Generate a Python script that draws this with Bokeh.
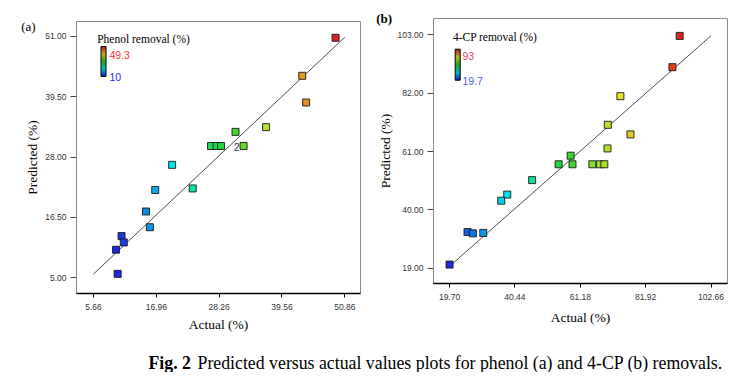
from bokeh.plotting import figure
from bokeh.layouts import column, row
from bokeh.models import (Range1d, FixedTicker, PrintfTickFormatter, LinearColorMapper,
                          ColorBar, Label, ColumnDataSource, Title)
from bokeh.core.properties import value
from bokeh.embed import file_html
from bokeh.resources import INLINE

# ---------------- data ----------------
phenol_actual = [49.2, 43.2, 43.9, 36.7, 31.2, 26.8, 27.8, 28.6, 32.65, 19.8,
                 16.76, 23.5, 15.1, 15.8, 10.7, 11.1, 9.7, 10.0]
phenol_pred = [50.75, 43.5, 38.4, 33.7, 32.8, 30.1, 30.1, 30.1, 30.1, 26.5,
               21.7, 22.0, 17.6, 14.6, 12.9, 11.7, 10.3, 5.7]
phenol_count = [1, 1, 1, 1, 1, 1, 1, 1, 2, 1, 1, 1, 1, 1, 1, 1, 1, 1]

cp_actual = [92.7, 90.4, 73.9, 69.9, 77.1, 69.8, 58.1, 54.3, 58.7, 65.0,
             67.4, 68.8, 45.9, 38.0, 36.1, 25.4, 27.1, 30.4, 19.7]
cp_pred = [102.6, 91.35, 80.9, 70.6, 67.15, 62.1, 59.5, 56.4, 56.4, 56.4,
           56.4, 56.4, 50.7, 45.5, 43.3, 32.0, 31.55, 31.7, 20.3]
cp_count = [1] * len(cp_actual)

phenol_xticks = [5.66, 16.96, 28.26, 39.56, 50.86]
phenol_yticks = [5.00, 16.50, 28.00, 39.50, 51.00]
cp_xticks = [19.70, 40.44, 61.18, 81.92, 102.66]
cp_yticks = [19.00, 40.00, 61.00, 82.00, 103.00]

phenol_color_range = [10, 49.3]
cp_color_range = [19.7, 93]

phenol_title = "Phenol removal (%)"
cp_title = "4-CP removal (%)"
caption_bold = "Fig. 2"
caption_rest = "Predicted versus actual values plots for phenol (a) and 4-CP (b) removals."

SERIF = "Liberation Serif"
SANS = "Liberation Sans"

# blue - cyan - green - yellow - red palette (Design-Expert style)
anchors = [(0.0, (30, 40, 225)), (0.25, (0, 230, 235)), (0.5, (40, 210, 40)),
           (0.75, (230, 230, 40)), (1.0, (225, 30, 30))]


def make_palette(n=256, shade=1.0):
    out = []
    for i in range(n):
        t = i / (n - 1)
        for (t0, c0), (t1, c1) in zip(anchors[:-1], anchors[1:]):
            if t0 <= t <= t1:
                f = (t - t0) / (t1 - t0)
                c = [round((a + (b - a) * f) * shade) for a, b in zip(c0, c1)]
                out.append("#%02x%02x%02x" % tuple(c))
                break
    return out


PALETTE = make_palette()
BAR_PALETTE = make_palette(shade=0.8)


def make_panel(actual, pred, count, xticks, yticks, xr, yr, crange, title, tag,
               tag_bold, tag_offset, tag_standoff, hi_color, lo_color, width, height,
               bl, br, bt, bb, title_pos, cb_pos, cb_size, hi_pos, lo_pos, xlabel_standoff):
    p = figure(width=width, height=height, output_backend="svg", toolbar_location=None,
               x_range=Range1d(*xr), y_range=Range1d(*yr),
               min_border_left=bl, min_border_right=br, min_border_top=bt,
               min_border_bottom=bb)
    p.frame_align = False
    p.grid.visible = False
    p.outline_line_color = "#8a8a8a"
    p.outline_line_width = 1
    p.background_fill_color = "white"

    p.add_layout(Title(text=tag, align="left", offset=tag_offset, standoff=tag_standoff,
                       text_font=SERIF, text_font_size="13px",
                       text_font_style="bold" if tag_bold else "normal",
                       text_baseline="alphabetic", text_color="black"), "above")

    for ax, ticks in ((p.xaxis[0], xticks), (p.yaxis[0], yticks)):
        ax.ticker = FixedTicker(ticks=ticks)
        ax.formatter = PrintfTickFormatter(format="%.2f")
        ax.major_label_text_font = SANS
        ax.major_label_text_font_size = "8.5px"
        ax.major_label_text_color = "#333333"
        ax.minor_tick_line_color = None
        ax.major_tick_in = 0
        ax.axis_label_text_font = SERIF
        ax.axis_label_text_font_size = "13.5px"
        ax.axis_label_text_font_style = "normal"
        ax.axis_label_text_color = "black"

    p.xaxis.axis_label = "Actual (%)"
    p.yaxis.axis_label = "Predicted (%)"
    p.xaxis.axis_line_color = "black"
    p.xaxis.axis_line_width = 1.5
    p.xaxis.major_tick_out = 4
    p.xaxis.major_tick_line_color = "black"
    p.xaxis.major_label_standoff = 6
    p.xaxis.axis_label_standoff = xlabel_standoff
    p.yaxis.axis_line_color = None
    p.yaxis.major_tick_out = 6
    p.yaxis.major_tick_line_color = "#444444"
    p.yaxis.major_label_standoff = 4
    p.yaxis.axis_label_standoff = 2

    mapper = LinearColorMapper(palette=PALETTE, low=crange[0], high=crange[1])
    bar_mapper = LinearColorMapper(palette=BAR_PALETTE, low=crange[0], high=crange[1])

    # y = x reference line across the tick span
    p.line(x=[xticks[0], xticks[-1]], y=[xticks[0], xticks[-1]],
           line_color="#222222", line_width=0.8)

    src = ColumnDataSource(dict(actual=actual, pred=pred))
    p.scatter("actual", "pred", source=src, marker="square", size=7,
              fill_color={"field": "actual", "transform": mapper},
              line_color="#1a1a1a", line_width=0.9)

    dup = [i for i, c in enumerate(count) if c > 1]
    if dup:
        dsrc = ColumnDataSource(dict(x=[actual[i] for i in dup], y=[pred[i] for i in dup],
                                     t=[str(count[i]) for i in dup]))
        p.text("x", "y", text="t", source=dsrc, x_offset=-4, y_offset=1,
               text_align="right", text_baseline="middle", text_font=value(SANS),
               text_font_size="10px", text_color="#333333")

    p.add_layout(Label(x=title_pos[0], y=title_pos[1], x_units="screen", y_units="screen",
                       text=title, text_font=SERIF, text_font_size="11.5px",
                       text_color="black", text_baseline="alphabetic"))
    cb = ColorBar(color_mapper=bar_mapper, location=cb_pos, width=cb_size[0],
                  height=cb_size[1], padding=0, ticker=FixedTicker(ticks=[]),
                  bar_line_color="black", bar_line_width=1, border_line_color=None,
                  background_fill_alpha=0, major_tick_line_color=None,
                  orientation="vertical")
    p.add_layout(cb, "center")
    p.add_layout(Label(x=hi_pos[0], y=hi_pos[1], x_units="screen", y_units="screen",
                       text=("%g" % crange[1]), text_font=SANS, text_font_size="10.5px",
                       text_color=hi_color, text_baseline="alphabetic"))
    p.add_layout(Label(x=lo_pos[0], y=lo_pos[1], x_units="screen", y_units="screen",
                       text=("%g" % crange[0]), text_font=SANS, text_font_size="10.5px",
                       text_color=lo_color, text_baseline="alphabetic"))
    return p


p1 = make_panel(phenol_actual, phenol_pred, phenol_count, phenol_xticks, phenol_yticks,
                (2.6, 53.68), (1.95, 53.86), phenol_color_range, phenol_title, "(a)", False,
                -55.3, -24, "#ff3030", "#2030ff", width=368, height=350,
                bl=76, br=8, bt=21, bb=57, title_pos=(20.7, 255), cb_pos=(24.5, 217),
                cb_size=(5, 30), hi_pos=(33, 239), lo_pos=(33, 217), xlabel_standoff=4)

p2 = make_panel(cp_actual, cp_pred, cp_count, cp_xticks, cp_yticks,
                (14.61, 107.87), (13.5, 108.86), cp_color_range, cp_title, "(b)", True,
                -57.3, -15, "#e04a68", "#5060d8", width=362, height=350,
                bl=65, br=3, bt=18, bb=67, title_pos=(19.4, 246.3), cb_pos=(21.7, 203.3),
                cb_size=(5, 31), hi_pos=(29, 227.3), lo_pos=(29, 202.3), xlabel_standoff=7)

cap = figure(width=730, height=22, output_backend="svg", toolbar_location=None,
             x_range=Range1d(0, 730), y_range=Range1d(0, 22), min_border=0,
             x_axis_location=None, y_axis_location=None)
cap.grid.visible = False
cap.outline_line_color = None
cap.add_layout(Label(x=148, y=10, text=caption_bold, text_font=SERIF, text_font_size="17.8px",
                     text_font_style="bold", text_color="black", text_baseline="alphabetic"))
cap.add_layout(Label(x=197, y=10, text=caption_rest, text_font=SERIF, text_font_size="17.8px",
                     text_color="black", text_baseline="alphabetic"))

layout = column(row(p1, p2), cap)
open("out.html", "w").write(file_html(layout, INLINE))
